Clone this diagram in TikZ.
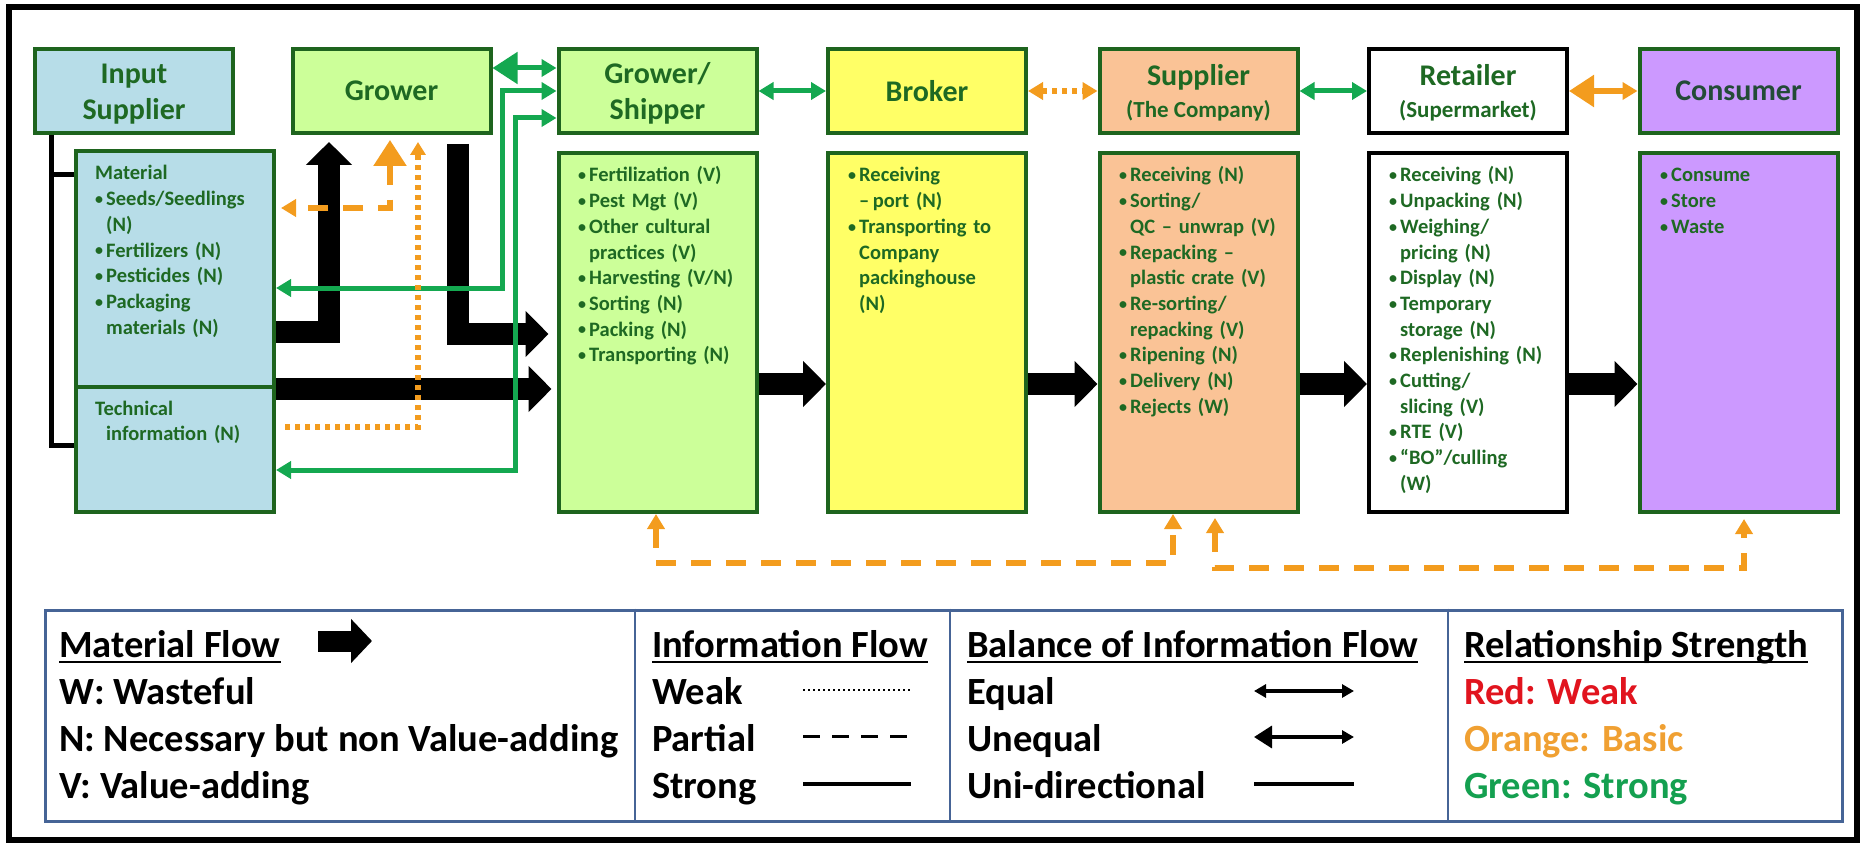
\documentclass[tikz,border=0pt]{standalone}
\usepackage{fontspec}
\setmainfont{Carlito}
\usetikzlibrary{arrows.meta,calc}
\definecolor{bgreen}{RGB}{30,100,30}
\definecolor{tgreen}{RGB}{30,105,35}
\definecolor{cblue}{RGB}{183,221,232}
\definecolor{cgreen}{RGB}{204,255,153}
\definecolor{cyellow}{RGB}{255,255,102}
\definecolor{cpeach}{RGB}{250,195,150}
\definecolor{cpurple}{RGB}{204,153,255}
\definecolor{agreen}{RGB}{20,168,80}
\definecolor{aorange}{RGB}{243,156,30}
\definecolor{lblue}{RGB}{70,100,150}
\definecolor{lred}{RGB}{225,20,30}
\definecolor{lorange}{RGB}{240,160,50}
\definecolor{lgreen}{RGB}{20,160,80}
\definecolor{cslate}{RGB}{35,75,55}
\newcommand\myul[1]{\setbox0\hbox{#1}\rlap{\rule[-6pt]{\wd0}{2.5pt}}\box0}
\newcommand\bi{\makebox[11pt][l]{\raisebox{1.2pt}{\fontsize{16}{16}\selectfont\textbullet}}}
\newcommand\ci{\hspace*{11pt}}
\newcommand\hs{\rule{0pt}{25pt}}
\begin{document}
\begin{tikzpicture}[x=1pt,y=-1pt,
  hdr/.style={draw=bgreen, line width=4pt, rectangle, minimum width=198pt, minimum height=84pt, inner sep=0pt, align=center, text=tgreen, font=\fontsize{30}{36}\selectfont\bfseries},
  bodybox/.style={draw=bgreen, line width=4pt, rectangle, minimum width=198pt, minimum height=359pt, inner sep=0pt},
  btxt/.style={anchor=base west, inner sep=0pt, text width=200pt, align=left, text=tgreen, font=\fontsize{20.5}{25.7}\selectfont\bfseries},
  matflow/.style={draw=black, line width=22pt, line join=miter, -{Triangle[length=23pt,width=45pt]}},
  agr/.style={draw=agreen, line width=5pt, line join=miter},
  aor/.style={draw=aorange, line width=5.5pt, line join=miter},
  dashy/.style={dash pattern=on 20pt off 15pt},
  dotty/.style={dash pattern=on 5pt off 5pt},
  tipS/.tip={Triangle[length=15pt,width=17pt]},
  tipB/.tip={Triangle[length=25pt,width=31pt]},
  legtxt/.style={anchor=base west, inner sep=0pt, font=\fontsize{38.5}{46}\selectfont\bfseries},
]
\useasboundingbox (0,0) rectangle (1863,845);
\node[draw=black, line width=6pt, minimum width=1848pt, minimum height=833pt, inner sep=0pt] (frame) at (933,423.5) {};

% headers
\node[hdr, fill=cblue] (ishdr) at (134,91) {\hs Input\\Supplier};
\node[hdr, fill=cgreen] (grhdr) at (391.5,91) {Grower};
\node[hdr, fill=cgreen] (gshdr) at (657.5,91) {\hs Grower/\\Shipper};
\node[hdr, fill=cyellow] (brhdr) at (927,91) {Broker};
\node[hdr, fill=cpeach] (suhdr) at (1198.5,91) {\hs Supplier\\[-4pt]{\fontsize{23}{28}\selectfont(The Company)}};
\node[hdr, fill=white, draw=black] (rehdr) at (1468,91) {\hs Retailer\\[-4pt]{\fontsize{23}{28}\selectfont(Supermarket)}};
\node[hdr, fill=cpurple, text=cslate] (cohdr) at (1738.5,91) {Consumer};

% bodies
\node[bodybox, fill=cblue, minimum height=236pt] (matbox) at (175,269) {};
\node[bodybox, fill=cblue, minimum height=125pt] (techbox) at (175,449.5) {};
\node[bodybox, fill=cgreen] (gsbody) at (657.5,332.5) {};
\node[bodybox, fill=cyellow] (brbody) at (927,332.5) {};
\node[bodybox, fill=cpeach] (subody) at (1198.5,332.5) {};
\node[bodybox, fill=white, draw=black] (rebody) at (1468,332.5) {};
\node[bodybox, fill=cpurple] (cobody) at (1738.5,332.5) {};

% body texts
\node[btxt] (matt) at (95,180) {Material\\
\bi Seeds/Seedlings\\
\ci (N)\\
\bi Fertilizers (N)\\
\bi Pesticides (N)\\
\bi Packaging\\
\ci materials (N)};
\node[btxt] (techt) at (95,415) {Technical\\
\ci information (N)};
\node[btxt] (gst) at (578,182) {\bi Fertilization (V)\\
\bi Pest Mgt (V)\\
\bi Other cultural\\
\ci practices (V)\\
\bi Harvesting (V/N)\\
\bi Sorting (N)\\
\bi Packing (N)\\
\bi Transporting (N)};
\node[btxt] (brt) at (848,182) {\bi Receiving\\
\ci --\,port (N)\\
\bi Transporting to\\
\ci Company\\
\ci packinghouse\\
\ci (N)};
\node[btxt] (sut) at (1119,182) {\bi Receiving (N)\\
\bi Sorting/\\
\ci QC -- unwrap (V)\\
\bi Repacking --\\
\ci plastic crate (V)\\
\bi Re-sorting/\\
\ci repacking (V)\\
\bi Ripening (N)\\
\bi Delivery (N)\\
\bi Rejects (W)};
\node[btxt] (ret) at (1389,182) {\bi Receiving (N)\\
\bi Unpacking (N)\\
\bi Weighing/\\
\ci pricing (N)\\
\bi Display (N)\\
\bi Temporary\\
\ci storage (N)\\
\bi Replenishing (N)\\
\bi Cutting/\\
\ci slicing (V)\\
\bi RTE (V)\\
\bi “BO”/culling\\
\ci (W)};
\node[btxt] (cot) at (1660,182) {\bi Consume\\
\bi Store\\
\bi Waste};

% bracket
\coordinate (bx) at (51,0);
\coordinate (mattop) at ($(matbox.north west)+(0,26)$);
\coordinate (techy) at ($(techbox.north west)+(0,60)$);
\draw[line width=5pt, line join=miter] (ishdr.south -| bx) -- (bx |- techy) -- (techy);
\draw[line width=5pt] (bx |- mattop) -- (mattop);

% material flow
\coordinate (a1) at (329,332);
\draw[matflow] (matbox.east |- a1) -| ($(grhdr.south -| a1)+(0,7)$);
\coordinate (a2) at (458,334);
\draw[matflow] ($(grhdr.south -| a2)+(0,9)$) |- ($(gsbody.west |- a2)+(-8,0)$);
\draw[matflow] (matbox.south east) -- ($(gsbody.west |- matbox.south east)+(-5,0)$);
\coordinate (ym) at (0,384);
\draw[matflow] (gsbody.east |- ym) -- (brbody.west |- ym);
\draw[matflow] (brbody.east |- ym) -- (subody.west |- ym);
\draw[matflow] (subody.east |- ym) -- (rebody.west |- ym);
\draw[matflow] (rebody.east |- ym) -- (cobody.west |- ym);

% green information links
\coordinate (y68) at (0,68);
\draw[agr, tipB-tipS] (grhdr.east |- y68) -- (gshdr.west |- y68);
\coordinate (g2) at (502,288);
\draw[agr, tipS-tipS] (gshdr.west) -| (g2) -- (matbox.east |- g2);
\coordinate (y118) at (0,118);
\coordinate (g3) at (515,470);
\draw[agr, tipS-tipS] (gshdr.west |- y118) -| (g3) -- (techbox.east |- g3);
\draw[agr, tipS-tipS] (gshdr.east) -- (brhdr.west);
\draw[agr, tipS-tipS] (suhdr.east) -- (rehdr.west);

% orange information links
\draw[aor, dotty, tipS-tipS] (brhdr.east) -- (suhdr.west);
\draw[aor, tipB-tipS] (rehdr.east) -- (cohdr.west);
\coordinate (o1) at (390,208);
\draw[aor, dashy, {Triangle[length=26pt,width=32pt]}-tipS] ($(grhdr.south -| o1)+(0,5)$) |- ($(matbox.east |- o1)+(5,0)$);
\coordinate (o2) at (418,427);
\draw[aor, dotty, -{Triangle[length=13pt,width=15pt]}] ($(techbox.east |- o2)+(9,0)$) -| ($(grhdr.south -| o2)+(0,7)$);
\coordinate (o3a) at (656,563);
\coordinate (o3b) at (1173,563);
\draw[aor, dashy, tipS-tipS] (gsbody.south -| o3a) -- (o3a) -- (o3b) -- (subody.south -| o3b);
\coordinate (o4a) at (1215,568);
\coordinate (o4b) at (1744,568);
\draw[aor, dashy, tipS-tipS] ($(subody.south -| o4a)+(0,4)$) -- (o4a) -- (o4b) -- ($(cobody.south -| o4b)+(0,5)$);

% legend
\node[draw=lblue, line width=3pt, minimum width=1797pt, minimum height=211pt, inner sep=0pt] (legend) at (943.5,715.5) {};
\coordinate (d1) at (635,0);
\coordinate (d2) at (950,0);
\coordinate (d3) at (1448,0);
\draw[lblue, line width=2.5pt] (legend.north -| d1) -- (legend.south -| d1);
\draw[lblue, line width=2.5pt] (legend.north -| d2) -- (legend.south -| d2);
\draw[lblue, line width=2.5pt] (legend.north -| d3) -- (legend.south -| d3);

\node[legtxt] (l1h) at (59,657) {\myul{Material Flow}};
\node[legtxt] (l1a) at (59,704) {W: Wasteful};
\node[legtxt] (l1b) at (59,751) {N: Necessary but non Value-adding};
\node[legtxt] (l1c) at (59,798) {V: Value-adding};
\coordinate (li1) at (318,641);
\coordinate (li2) at (372,641);
\draw[line width=21pt, -{Triangle[length=21pt,width=43pt]}] (li1) -- (li2);

\node[legtxt] (l2h) at (652,657) {\myul{Information Flow}};
\node[legtxt] (l2a) at (652,704) {Weak};
\node[legtxt] (l2b) at (652,751) {Partial};
\node[legtxt] (l2c) at (652,798) {Strong};
\coordinate (w1) at (803,690); \coordinate (w2) at (911,690);
\draw[line width=2.5pt, dash pattern=on 2pt off 3pt] (w1) -- (w2);
\coordinate (p1) at (803,736); \coordinate (p2) at (911,736);
\draw[line width=3pt, dash pattern=on 17pt off 12pt] (p1) -- (p2);
\coordinate (s1) at (803,784); \coordinate (s2) at (911,784);
\draw[line width=3.5pt] (s1) -- (s2);

\node[legtxt] (l3h) at (967,657) {\myul{Balance of Information Flow}};
\node[legtxt] (l3a) at (967,704) {Equal};
\node[legtxt] (l3b) at (967,751) {Unequal};
\node[legtxt] (l3c) at (967,798) {Uni-directional};
\coordinate (e1) at (1254,691); \coordinate (e2) at (1354,691);
\draw[line width=3.5pt, {Triangle[length=12pt,width=13pt]}-{Triangle[length=12pt,width=13pt]}] (e1) -- (e2);
\coordinate (u1) at (1254,737); \coordinate (u2) at (1354,737);
\draw[line width=3.5pt, {Triangle[length=18pt,width=22pt]}-{Triangle[length=12pt,width=13pt]}] (u1) -- (u2);
\coordinate (n1) at (1254,784); \coordinate (n2) at (1354,784);
\draw[line width=3.5pt] (n1) -- (n2);

\node[legtxt] (l4h) at (1464,657) {\myul{Relationship Strength}};
\node[legtxt, text=lred] (l4a) at (1464,704) {Red: Weak};
\node[legtxt, text=lorange] (l4b) at (1464,751) {Orange: Basic};
\node[legtxt, text=lgreen] (l4c) at (1464,798) {Green: Strong};
\end{tikzpicture}
\end{document}
